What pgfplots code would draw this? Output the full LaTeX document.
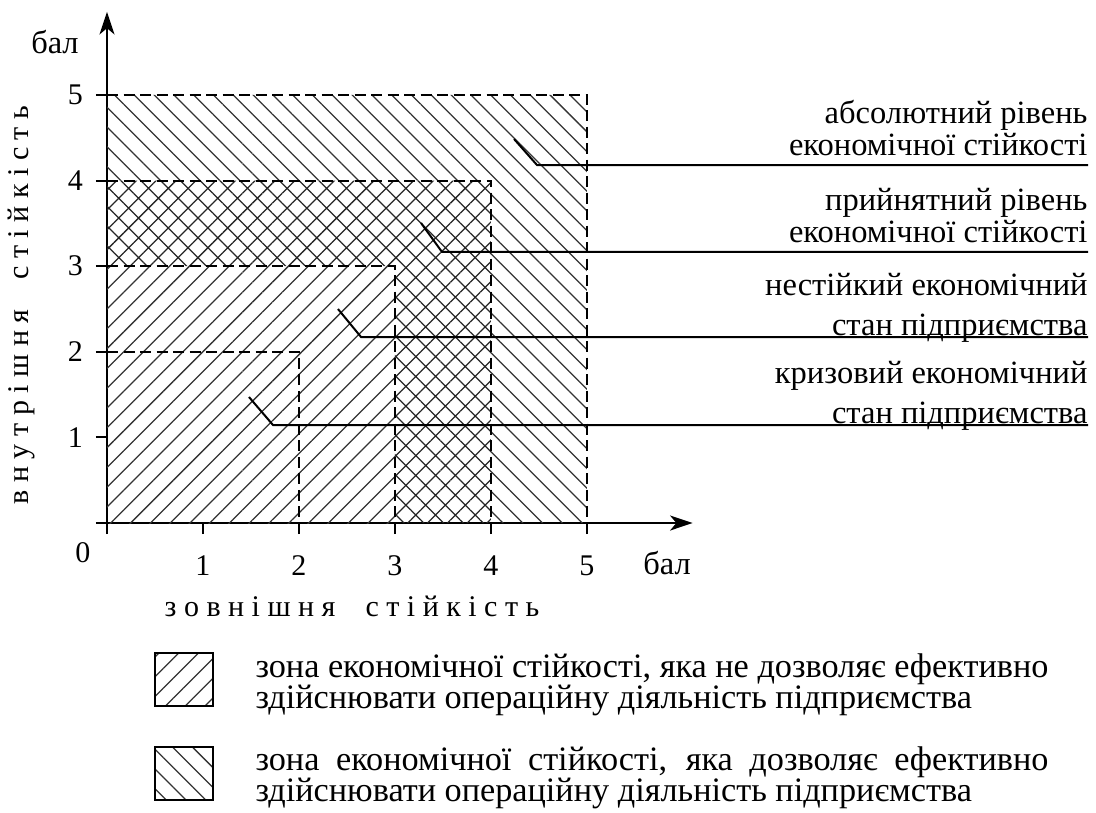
\documentclass[border=0pt]{standalone}
\usepackage{fontspec}
\setmainfont{Liberation Serif}
\usepackage{pgfplots}
\pgfplotsset{compat=1.18}
\usetikzlibrary{patterns.meta,arrows.meta}
\newlength\legw
\begin{document}%
\fontsize{12pt}{14pt}\selectfont%
\settowidth{\legw}{\fontsize{13.7pt}{16pt}\selectfont зона економічної стійкості, яка не дозволяє ефективно}%
\begin{tikzpicture}
\begin{axis}[
  at={(42.8pt,-209.2pt)}, anchor=origin,
  scale only axis, width=234.24pt, height=204.42pt,
  xmin=0, xmax=6.1, ymin=0, ymax=5.97,
  axis lines=middle, clip=false,
  axis line style={line width=0.8pt, -{Stealth[length=9pt,width=6pt,inset=2.5pt]}},
  xtick={0,1,2,3,4,5}, xticklabels={,1,2,3,4,5},
  ytick={0,1,2,3,4,5}, yticklabels={,1,2,3,4,5},
  hide obscured x ticks=false, hide obscured y ticks=false,
  tick align=outside, major tick length=4.4pt,
  tick style={line width=0.8pt, black},
  xticklabel style={font=\fontsize{12pt}{14pt}\selectfont, anchor=north, yshift=-4.5pt},
  yticklabel style={font=\fontsize{12pt}{14pt}\selectfont, anchor=east, xshift=-1pt},
]
% zones
\addplot[draw=none, pattern={Lines[angle=-45,distance=5.6pt,line width=0.5pt]}, pattern color=black!80]
  coordinates {(0,4) (0,5) (5,5) (5,0) (4,0) (4,4)} -- cycle;
\addplot[draw=none, pattern={Hatch[angle=45,distance=5.6pt,line width=0.5pt]}, pattern color=black!85]
  coordinates {(0,3) (0,4) (4,4) (4,0) (3,0) (3,3)} -- cycle;
\addplot[draw=none, pattern={Lines[angle=45,distance=5.6pt,line width=0.5pt]}, pattern color=black!80]
  coordinates {(0,0) (0,3) (3,3) (3,0)} -- cycle;
% dashed borders
\addplot[black, line width=0.8pt, dash pattern=on 4.4pt off 2.2pt] coordinates {(0,5) (5,5) (5,0)};
\addplot[black, line width=0.8pt, dash pattern=on 4.4pt off 2.2pt] coordinates {(0,4) (4,4) (4,0)};
\addplot[black, line width=0.8pt, dash pattern=on 4.4pt off 2.2pt] coordinates {(0,3) (3,3) (3,0)};
\addplot[black, line width=0.8pt, dash pattern=on 4.4pt off 2.2pt] coordinates {(0,2) (2,2) (2,0)};
% leader lines
\addplot[black, line width=0.8pt] coordinates {(4.240,4.486) (4.479,4.182) (10.22,4.182)};
\addplot[black, line width=0.8pt] coordinates {(3.271,3.505) (3.490,3.166) (10.22,3.166)};
\addplot[black, line width=0.8pt] coordinates {(2.406,2.500) (2.646,2.173) (10.22,2.173)};
\addplot[black, line width=0.8pt] coordinates {(1.479,1.472) (1.729,1.145) (10.22,1.145)};
\end{axis}
\begin{scope}[x=0.4pt,y=-0.4pt]
% axis texts
\node[font=\fontsize{13pt}{15pt}\selectfont] at (55,42) {бал};
\node[font=\fontsize{13pt}{15pt}\selectfont] at (667,563) {бал};
\node at (83,553) {0};
\node[rotate=90] at (21,305) {в н у т р і ш н я \ \ \ с т і й к і с т ь};
\node at (352,606) {з о в н і ш н я \ \ \ с т і й к і с т ь};
% right labels
\begin{scope}[every node/.style={anchor=base east, inner sep=0pt, font=\fontsize{13pt}{15pt}\selectfont}]
\node at (1088,123) {абсолютний рівень};
\node at (1088,155) {економічної стійкості};
\node at (1088,210) {прийнятний рівень};
\node at (1088,242) {економічної стійкості};
\node at (1088,295) {нестійкий економічний};
\node at (1088,335) {стан підприємства};
\node at (1088,383) {кризовий економічний};
\node at (1088,423) {стан підприємства};
\end{scope}
% legend
\draw[line width=0.8pt, pattern={Lines[angle=45,distance=5.6pt,line width=0.5pt]}, pattern color=black!80] (155,653) rectangle (213,706);
\draw[line width=0.8pt, pattern={Lines[angle=-45,distance=5.6pt,line width=0.5pt]}, pattern color=black!80] (155,747) rectangle (213,800);
\begin{scope}[every node/.style={anchor=base west, inner sep=0pt, font=\fontsize{13.7pt}{16pt}\selectfont}]
\node at (255,677) {\parbox[t]{\legw}{\baselineskip=12.4pt\lineskiplimit=-\maxdimen
  зона економічної стійкості, яка не дозволяє ефективно\\
  здійснювати операційну діяльність підприємства}};
\node at (255,770) {\parbox[t]{\legw}{\baselineskip=12.4pt\lineskiplimit=-\maxdimen
  зона економічної стійкості, яка дозволяє ефективно\linebreak
  здійснювати операційну діяльність підприємства}};
\end{scope}
\end{scope}
\pgfresetboundingbox
\path[use as bounding box] (0pt,0pt) rectangle (438.4pt,-324.8pt);
\end{tikzpicture}%
\end{document}
